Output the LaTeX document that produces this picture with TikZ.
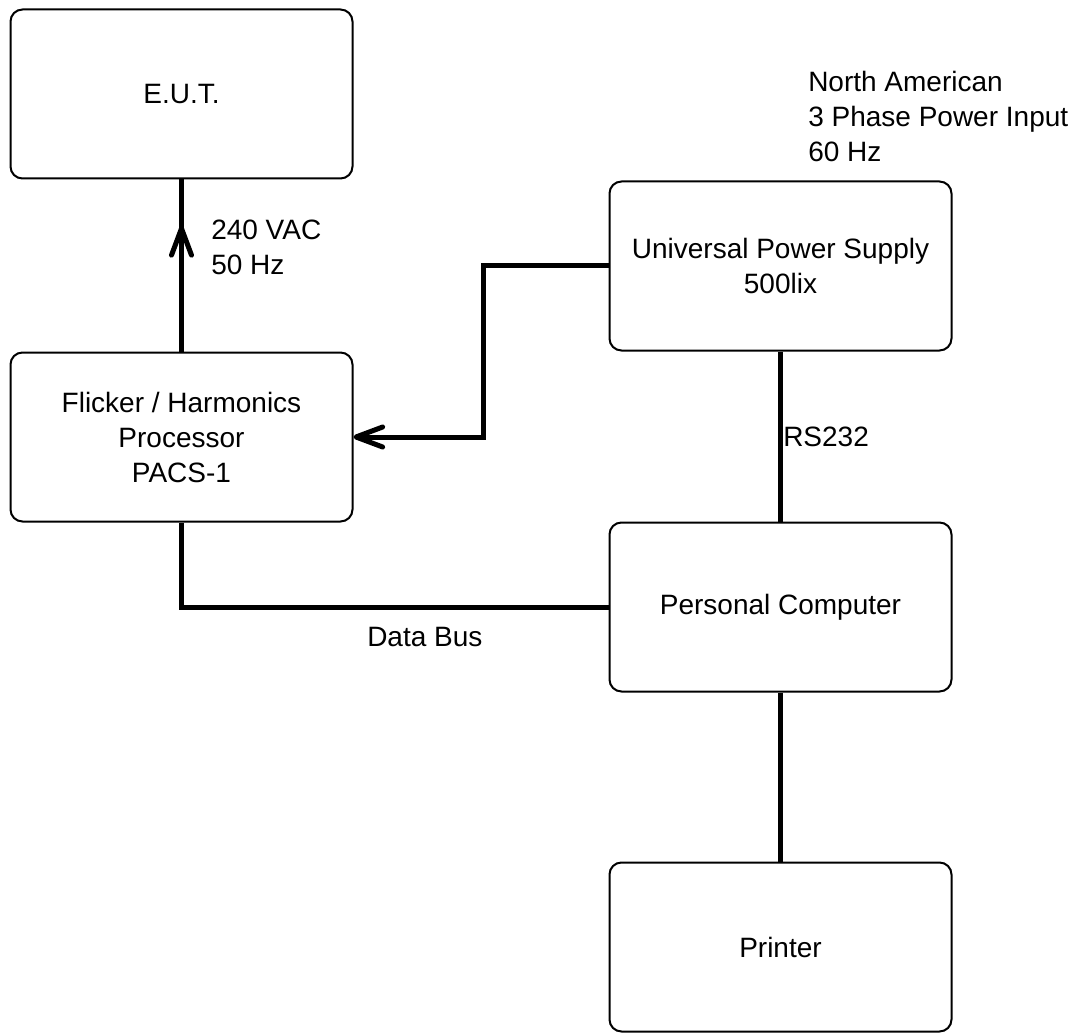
\documentclass[tikz,border=0pt]{standalone}
\usepackage{fontspec}
\setmainfont{Liberation Sans}
\usetikzlibrary{arrows.meta}
\begin{document}
\begin{tikzpicture}[x=0.75pt,y=-0.75pt,
  box/.style={draw, line width=1.5pt, rounded corners=9pt,
    minimum width=256.5pt, minimum height=126.75pt, align=center,
    font=\fontsize{21pt}{26.25pt}\selectfont},
  conn/.style={line width=3.75pt},
  tip/.style={-{Straight Barb[length=20pt,width=15pt,line cap=round,line join=round]}},
  lbl/.style={align=left, inner sep=0pt, font=\fontsize{21pt}{26.25pt}\selectfont}]
\useasboundingbox (0,0) rectangle (1081,1034);

% equipment blocks
\node[box] (eut) at (181.5,94) {E.U.T.};
\node[box] (fl)  at (181.5,437) {Flicker / Harmonics\\Processor\\PACS-1};
\node[box] (ups) at (780.5,266) {Universal Power Supply\\500lix};
\node[box] (pc)  at (780.5,607) {Personal Computer};
\node[box] (pr)  at (780.5,947) {Printer};

% 240 VAC feed to the E.U.T., arrow drawn part way up the line
\coordinate (feedtip) at (181.5,226);
\draw[conn] (fl.north) -- (eut.south);
\draw[conn,tip] (fl.north) -- (feedtip);

% power supply to the processor
\coordinate (jog) at (483,266);
\draw[conn,tip] (ups.west) -- (jog) |- (fl.east);

% RS232 link and printer link
\draw[conn] (ups.south) -- (pc.north);
\draw[conn] (pc.south) -- (pr.north);

% data bus
\draw[conn] (fl.south) |- (pc.west);

% labels
\node[lbl, anchor=west] (l240) at (211,247.5) {240 VAC\\50 Hz};
\node[lbl, anchor=west] (lrs) at (783,437) {RS232};
\node[lbl, anchor=west] (ldb) at (367,637) {Data Bus};
\node[lbl, anchor=west] (lna) at (808,116.5) {North American\\3 Phase Power Input\\60 Hz};
\end{tikzpicture}
\end{document}
